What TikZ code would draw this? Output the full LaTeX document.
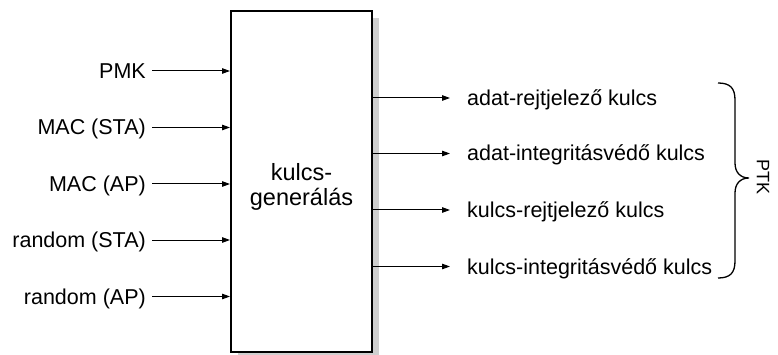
\documentclass[tikz,border=0pt]{standalone}
\usepackage{fontspec}
\setmainfont{Liberation Sans}
\usetikzlibrary{arrows.meta}
\begin{document}
\begin{tikzpicture}[x=1pt,y=-1pt,
  lbl/.style={font=\fontsize{21.5}{26}\selectfont, text height=17pt, text depth=2pt, inner ysep=0pt},
  inlbl/.style={lbl, anchor=east, inner xsep=6pt},
  outlbl/.style={lbl, anchor=west, inner xsep=17pt},
  flow/.style={line width=1pt, -{Triangle[length=8pt,width=5.5pt]}},
  genbox/.style={draw, line width=2pt, fill=white, minimum width=141pt, minimum height=341pt, inner sep=0pt},
  shadowfill/.style={fill=gray!38, draw=none}]
\useasboundingbox (0,0) rectangle (778,355);

% shadow behind the key generator block
\fill[shadowfill] (238,18) rectangle (379,356);

% key generator block
\node[genbox] (box) at (301.5,181.5) {};
\node[align=center, font=\fontsize{23.5}{25.5}\selectfont] (gen) at (301.5,187) {kulcs-\\generálás};

% inputs
\node[inlbl] (pmk)  at (152,71)    {PMK};
\node[inlbl] (macs) at (152,127.5) {MAC (STA)};
\node[inlbl] (maca) at (152,184)   {MAC (AP)};
\node[inlbl] (rnds) at (152,240)   {random (STA)};
\node[inlbl] (rnda) at (152,296.5) {random (AP)};

\foreach \n in {pmk,macs,maca,rnds,rnda}
  \draw[flow] (\n.east) -- (\n.east -| box.west);

% outputs
\node[outlbl] (o1) at (450,98)  {adat-rejtjelező kulcs};
\node[outlbl] (o2) at (450,153.5) {adat-integritásvédő kulcs};
\node[outlbl] (o3) at (450,210) {kulcs-rejtjelező kulcs};
\node[outlbl] (o4) at (450,266.5) {kulcs-integritásvédő kulcs};

\foreach \n in {o1,o2,o3,o4}
  \draw[flow] (\n.west -| box.east) -- (\n.west);

% brace grouping the outputs
\draw[line width=1.3pt] (718,83) .. controls (730,83) and (735,88) .. (735,100)
  -- (735,163) .. controls (735,172) and (740,178) .. (749,178)
  .. controls (740,178) and (735,184) .. (735,193)
  -- (735,261) .. controls (735,273) and (730,278) .. (718,278);
\node[rotate=-90, font=\fontsize{18}{20}\selectfont] (ptk) at (763,177) {PTK};
\end{tikzpicture}
\end{document}
